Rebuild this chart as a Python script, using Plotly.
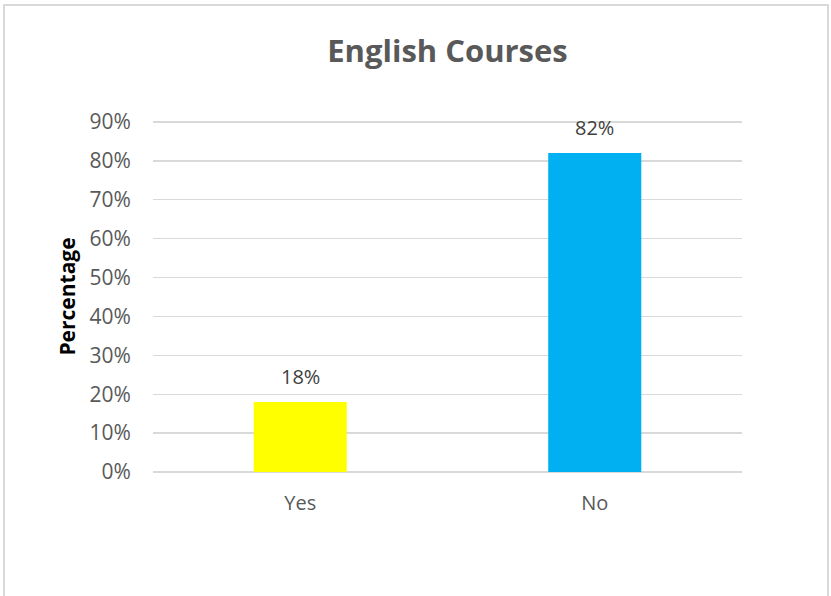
import plotly.graph_objects as go

categories = ["Yes", "No"]
values = [0.18, 0.82]
labels = ["18%", "82%"]
colors = ["#FFFF00", "#00B0F0"]
y_ticks = [0, 0.1, 0.2, 0.3, 0.4, 0.5, 0.6, 0.7, 0.8, 0.9]
y_ticklabels = ["0%", "10%", "20%", "30%", "40%", "50%", "60%", "70%", "80%", "90%"]

FONT = "Open Sans"

fig = go.Figure()
fig.add_trace(go.Bar(
    x=categories, y=values, marker=dict(color=colors, line=dict(width=0)),
    width=0.316, hoverinfo="skip",
))

for c, v, t in zip(categories, values, labels):
    fig.add_annotation(x=c, y=v, text=t, showarrow=False, yanchor="bottom",
                       yshift=10, font=dict(family=FONT, size=20, color="#404040"))

L, R, T, B = 153, 89, 121, 124
W, H = 831, 596
pw, ph = W - L - R, H - T - B

def px(x):
    return (x - L) / pw

def py(y):
    return (H - B - y) / ph

fig.add_shape(type="rect", xref="paper", yref="paper",
              x0=px(4), x1=px(828), y0=py(640), y1=py(5),
              line=dict(color="#D9D9D9", width=2), fillcolor="rgba(0,0,0,0)", layer="below")

fig.update_layout(
    width=W, height=H,
    margin=dict(l=L, r=R, t=T, b=B),
    paper_bgcolor="white", plot_bgcolor="white",
    showlegend=False,
    title=dict(text="<b>English Courses</b>", x=0.5, xref="paper", xanchor="center",
               y=1 - 51 / H, yanchor="middle",
               font=dict(family=FONT, size=31, color="#595959")),
    xaxis=dict(
        range=[-0.5, 1.5], showgrid=False, showline=False, zeroline=False,
        ticks="outside", ticklen=13, tickcolor="rgba(0,0,0,0)",
        tickfont=dict(family=FONT, size=20, color="#595959"),
        fixedrange=True,
    ),
    yaxis=dict(
        range=[0, 0.9026], tickvals=y_ticks, ticktext=y_ticklabels,
        showgrid=True, gridcolor="#D9D9D9", gridwidth=1.3,
        zeroline=True, zerolinecolor="#D9D9D9", zerolinewidth=1.5,
        showline=False,
        ticks="outside", ticklen=17, tickcolor="rgba(0,0,0,0)",
        tickfont=dict(family=FONT, size=21, color="#595959"),
        title=dict(text="<b>Percentage</b>", standoff=8,
                   font=dict(family=FONT, size=21, color="#000000")),
        fixedrange=True,
    ),
)

fig.write_html("out.html", config={"displayModeBar": False, "staticPlot": True},
               post_script="document.body.style.margin='0px';document.body.style.overflow='hidden';")
